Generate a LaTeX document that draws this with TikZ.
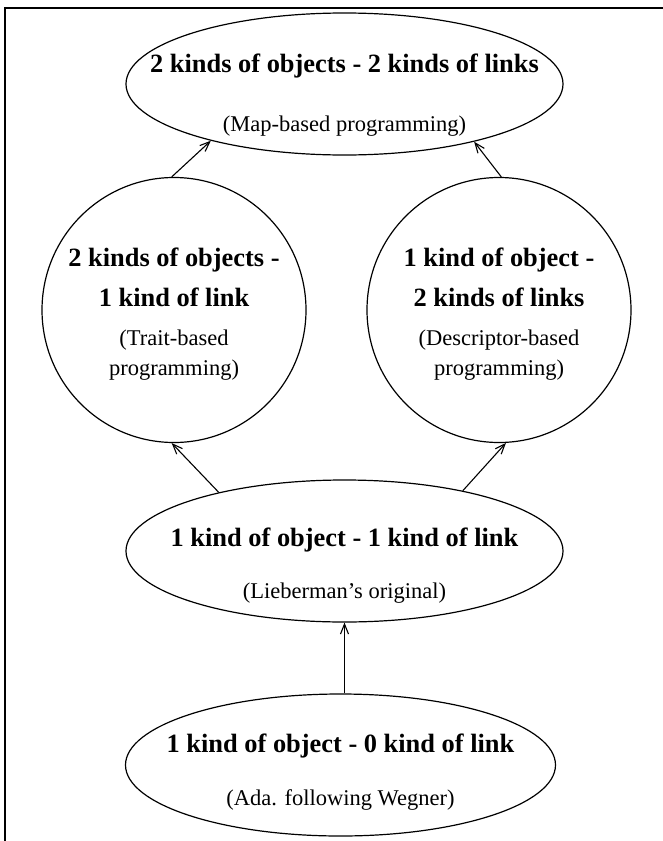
\documentclass[tikz,border=0pt]{standalone}
\usepackage{fontspec}
\setmainfont{Liberation Serif}
\usetikzlibrary{shapes.geometric,arrows.meta}
\begin{document}
\begin{tikzpicture}[x=1pt,y=-1pt,
  oval/.style={ellipse,draw,line width=1.2pt,inner sep=0pt,minimum width=437pt,minimum height=142pt},
  ring/.style={ellipse,draw,line width=1.2pt,inner sep=0pt,minimum width=264pt,minimum height=265pt},
  hd/.style={font=\fontsize{26.4}{30}\selectfont\bfseries,anchor=base,inner sep=0pt},
  sub/.style={font=\fontsize{22.5}{26}\selectfont,anchor=base,inner sep=0pt},
  arr/.style={line width=1.1pt,-{Straight Barb[length=10pt,width=8pt]}},
  frame/.style={line width=1.2pt}]
\useasboundingbox (0,0) rectangle (663,841);
% frame
\coordinate (tl) at (5,8);
\coordinate (tr) at (663,8);
\coordinate (bl) at (5,841);
\draw[frame] (tr) -- (tl) -- (bl);
% shapes
\node[oval] (top) at (344.5,84) {};
\node[ring] (lc) at (174,310) {};
\node[ring] (rc) at (499,310) {};
\node[oval] (mid) at (344.5,551) {};
\node[oval,minimum width=430pt] (bot) at (340.5,765) {};
% texts
\node[hd] (t1) at (344.5,72) {2 kinds of objects - 2 kinds of links};
\node[sub] (t2) at (344.5,131) {(Map-based programming)};
\node[hd] (l1) at (174,266) {2 kinds of objects -};
\node[hd] (l2) at (174,306) {1 kind of link};
\node[sub] (l3) at (174,345) {(Trait-based};
\node[sub] (l4) at (174,375) {programming)};
\node[hd] (r1) at (499,266) {1 kind of object -};
\node[hd] (r2) at (499,306) {2 kinds of links};
\node[sub] (r3) at (499,345) {(Descriptor-based};
\node[sub] (r4) at (499,375) {programming)};
\node[hd] (m1) at (344.5,546) {1 kind of object - 1 kind of link};
\node[sub] (m2) at (344.5,598) {(Lieberman’s original)};
\node[hd] (b1) at (340.5,752) {1 kind of object - 0 kind of link};
\node[sub] (b2) at (340.5,805) {(Ada. following Wegner)};
% arrows
\draw[arr] (mid.155) -- (lc.-91);
\draw[arr] (mid.27.8) -- (rc.-87.5);
\draw[arr] (lc.91) -- (top.-157.8);
\draw[arr] (rc.89) -- (top.-24.7);
\draw[arr] (bot.north -| mid.south) -- (mid.south);
\end{tikzpicture}
\end{document}
